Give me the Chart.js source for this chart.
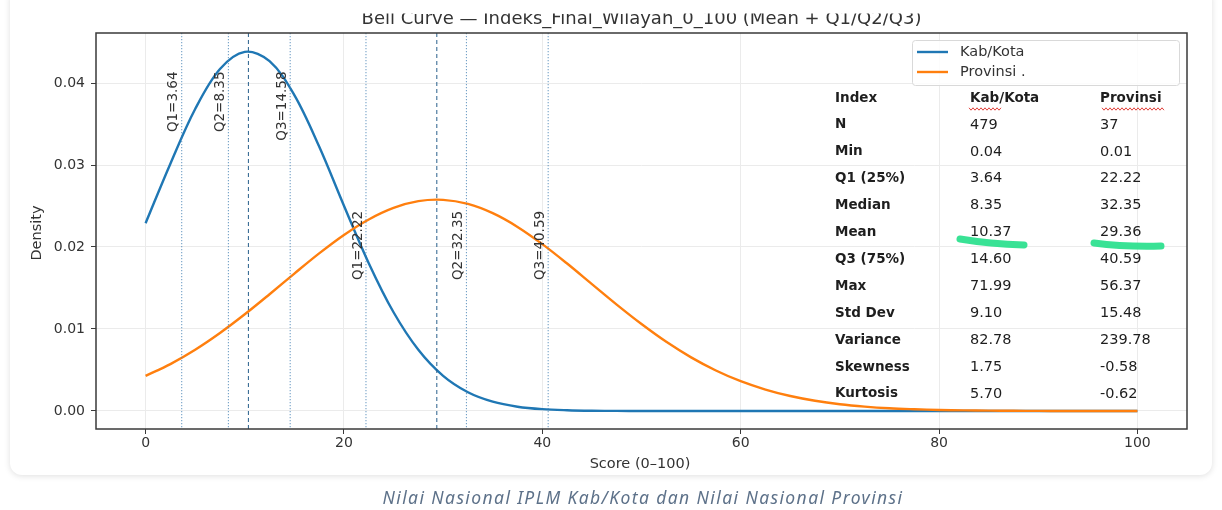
<!DOCTYPE html>
<html>
<head>
<meta charset="utf-8">
<script src="https://cdn.jsdelivr.net/npm/chart.js@4.4.1/dist/chart.umd.min.js"></script>
<style>
    html, body {
        margin: 0;
        padding: 0;
        background: #ffffff;
        width: 1222px;
        height: 510px;
        overflow: hidden;
    }

    #card {
        position: absolute;
        left: 10px;
        top: -12px;
        width: 1202px;
        height: 487px;
        background: #ffffff;
        border-radius: 12px;
        box-shadow: 0 1px 6px rgba(0, 0, 0, 0.13);
    }

    #bell {
        position: absolute;
        left: 0;
        top: 0;
    }

    #caption {
        position: absolute;
        left: 32px;
        top: 485px;
        width: 1222px;
        text-align: center;
        font-family: "Noto Sans", sans-serif;
        font-style: italic;
        font-size: 17.5px;
        letter-spacing: 1.4px;
        color: #5d7189;
    }
</style>
</head>
<body>
<div id="card"></div>
<canvas id="bell" width="1222" height="510"></canvas>
<div id="caption">Nilai Nasional IPLM Kab/Kota dan Nilai Nasional Provinsi</div>

<script>
const scoreX = [
    0, 2.5, 5, 7.5, 10, 12.5, 15, 17.5, 20, 22.5,
    25, 27.5, 30, 32.5, 35, 37.5, 40, 42.5, 45, 47.5,
    50, 52.5, 55, 57.5, 60, 62.5, 65, 67.5, 70, 72.5,
    75, 77.5, 80, 82.5, 85, 87.5, 90, 92.5, 95, 97.5,
    100
];

const kabDensity = [
    0.02290, 0.03016, 0.03683, 0.04171, 0.04380, 0.04266, 0.03852, 0.03225, 0.02504, 0.01803,
    0.01204, 0.00746, 0.00428, 0.00228, 0.00113, 0.00052, 0.00022, 0.00009, 0.00003, 0.00001,
    0, 0, 0, 0, 0, 0, 0, 0, 0, 0,
    0, 0, 0, 0, 0, 0, 0, 0, 0, 0,
    0
];

const provDensity = [
    0.00427, 0.00572, 0.00747, 0.00951, 0.01179, 0.01424, 0.01676, 0.01922, 0.02147, 0.02336,
    0.02477, 0.02559, 0.02575, 0.02525, 0.02412, 0.02245, 0.02035, 0.01798, 0.01547, 0.01297,
    0.01060, 0.00843, 0.00654, 0.00494, 0.00363, 0.00261, 0.00182, 0.00124, 0.00082, 0.00053,
    0.00033, 0.00021, 0.00012, 0.00007, 0.00004, 0.00002, 0.00001, 0, 0, 0,
    0
];

const xTicks = [0, 20, 40, 60, 80, 100];
const yTicks = [0, 0.01, 0.02, 0.03, 0.04];

// quartile / mean markers
const kabMarks = [3.64, 8.35, 14.58];
const kabMarkLabels = ["Q1=3.64", "Q2=8.35", "Q3=14.58"];
const kabMean = 10.37;
const kabLabelTop = 0.0414;

const provMarks = [22.22, 32.35, 40.59];
const provMarkLabels = ["Q1=22.22", "Q2=32.35", "Q3=40.59"];
const provMean = 29.36;
const provLabelTop = 0.0244;

// pasted summary table
const tableHeader = ["Index", "Kab/Kota", "Provinsi"];
const statNames = [
    "N", "Min", "Q1 (25%)", "Median", "Mean", "Q3 (75%)",
    "Max", "Std Dev", "Variance", "Skewness", "Kurtosis"
];
const kabStats = [
    "479", "0.04", "3.64", "8.35", "10.37", "14.60",
    "71.99", "9.10", "82.78", "1.75", "5.70"
];
const provStats = [
    "37", "0.01", "22.22", "32.35", "29.36", "40.59",
    "56.37", "15.48", "239.78", "-0.58", "-0.62"
];

const seriesNames = ["Kab/Kota", "Provinsi ."];
const blue = "#1f77b4";
const orange = "#ff7f0e";

const chartTitle =
    "Bell Curve \u2014 Indeks_Final_Wilayah_0_100 (Mean + Q1/Q2/Q3)";

const tickFont = {
    family: "'DejaVu Sans', sans-serif",
    size: 14
};

function vline(ctx, x, top, bottom, color, dash) {
    ctx.save();
    ctx.strokeStyle = color;
    ctx.lineWidth = 1.1;
    ctx.setLineDash(dash);
    ctx.beginPath();
    ctx.moveTo(x, top);
    ctx.lineTo(x, bottom);
    ctx.stroke();
    ctx.restore();
}

function upText(ctx, text, x, y) {
    ctx.save();
    ctx.translate(x, y);
    ctx.rotate(-Math.PI / 2);
    ctx.textAlign = "right";
    ctx.textBaseline = "bottom";
    ctx.fillText(text, 0, 0);
    ctx.restore();
}

const decorPlugin = {
    id: "decor",

    afterDatasetsDraw(chart) {
        const ctx = chart.ctx;
        const area = chart.chartArea;
        const xs = chart.scales.x;
        const ys = chart.scales.y;

        // marker lines
        kabMarks.concat(provMarks).forEach(v => {
            vline(ctx, xs.getPixelForValue(v), area.top, area.bottom,
                "rgba(70, 130, 180, 0.75)", [1.2, 1.8]);
        });
        [kabMean, provMean].forEach(v => {
            vline(ctx, xs.getPixelForValue(v), area.top, area.bottom,
                "rgba(40, 95, 140, 0.9)", [4, 3]);
        });

        // marker labels
        ctx.save();
        ctx.font = "13.5px 'DejaVu Sans', sans-serif";
        ctx.fillStyle = "#333";
        kabMarks.forEach((v, i) => {
            upText(ctx, kabMarkLabels[i],
                xs.getPixelForValue(v) - 1,
                ys.getPixelForValue(kabLabelTop));
        });
        provMarks.forEach((v, i) => {
            upText(ctx, provMarkLabels[i],
                xs.getPixelForValue(v) - 1,
                ys.getPixelForValue(provLabelTop));
        });
        ctx.restore();
    },

    afterDraw(chart) {
        const ctx = chart.ctx;
        const area = chart.chartArea;

        // spines
        ctx.save();
        ctx.strokeStyle = "#3a3a3a";
        ctx.lineWidth = 1.5;
        ctx.strokeRect(area.left, area.top,
            area.right - area.left, area.bottom - area.top);
        ctx.restore();

        // title, top of it cut off as in the screenshot
        ctx.save();
        ctx.beginPath();
        ctx.rect(0, 13.5, chart.width, 40);
        ctx.clip();
        ctx.font = "18px 'DejaVu Sans', sans-serif";
        ctx.fillStyle = "#333";
        ctx.textAlign = "center";
        ctx.textBaseline = "alphabetic";
        ctx.fillText(chartTitle, (area.left + area.right) / 2, 23.5);
        ctx.restore();

        // axis titles
        ctx.save();
        ctx.font = "14.5px 'DejaVu Sans', sans-serif";
        ctx.fillStyle = "#333";
        ctx.textAlign = "center";
        ctx.textBaseline = "middle";
        ctx.fillText("Score (0\u2013100)", 640, 464);
        ctx.translate(37, 233);
        ctx.rotate(-Math.PI / 2);
        ctx.fillText("Density", 0, 0);
        ctx.restore();

        // legend box
        ctx.save();
        ctx.fillStyle = "rgba(255,255,255,0.85)";
        ctx.strokeStyle = "#d9d9d9";
        ctx.lineWidth = 1;
        ctx.beginPath();
        ctx.roundRect(912.5, 40.5, 267, 45, 3);
        ctx.fill();
        ctx.stroke();
        ctx.font = "14.5px 'DejaVu Sans', sans-serif";
        ctx.textBaseline = "middle";
        [blue, orange].forEach((c, i) => {
            const y = 52 + i * 20;
            ctx.strokeStyle = c;
            ctx.lineWidth = 2.4;
            ctx.beginPath();
            ctx.moveTo(917, y);
            ctx.lineTo(948, y);
            ctx.stroke();
            ctx.fillStyle = "#333";
            ctx.fillText(seriesNames[i], 960, y);
        });
        ctx.restore();

        // summary table
        const colX = [835, 970, 1100];
        const rowY = 98;
        const rowStep = 26.9;
        ctx.save();
        ctx.textBaseline = "middle";
        ctx.fillStyle = "#1e1e1e";
        ctx.font = "bold 13.5px 'DejaVu Sans', sans-serif";
        tableHeader.forEach((h, i) => {
            ctx.fillText(h, colX[i], rowY);
        });
        statNames.forEach((s, i) => {
            ctx.font = "bold 13.5px 'DejaVu Sans', sans-serif";
            ctx.fillText(s, colX[0], rowY + (i + 1) * rowStep);
            ctx.font = "14.5px 'DejaVu Sans', sans-serif";
            ctx.fillText(kabStats[i], colX[1], rowY + (i + 1) * rowStep);
            ctx.fillText(provStats[i], colX[2], rowY + (i + 1) * rowStep);
        });

        // spell-check squiggles under the headers
        ctx.strokeStyle = "#e0403a";
        ctx.lineWidth = 1;
        [[969, 1001], [1102, 1164]].forEach(seg => {
            ctx.beginPath();
            for (let x = seg[0], k = 0; x <= seg[1]; x += 2, k++) {
                const y = 109 + (k % 2 ? 1.2 : -1.2);
                if (k === 0) ctx.moveTo(x, y);
                else ctx.lineTo(x, y);
            }
            ctx.stroke();
        });

        // green highlighter strokes under the means
        ctx.strokeStyle = "rgba(40, 224, 140, 0.92)";
        ctx.lineWidth = 7;
        ctx.lineCap = "round";
        ctx.beginPath();
        ctx.moveTo(960, 239);
        ctx.quadraticCurveTo(990, 244, 1024, 245);
        ctx.stroke();
        ctx.beginPath();
        ctx.moveTo(1094, 243);
        ctx.quadraticCurveTo(1125, 247, 1161, 246);
        ctx.stroke();
        ctx.restore();
    }
};

function drawBell() {

    const kabPoints =
        scoreX.map((x, i) => ({ x, y: kabDensity[i] }));

    const provPoints =
        scoreX.map((x, i) => ({ x, y: provDensity[i] }));

    const ctx =
        document.getElementById("bell");

    new Chart(ctx, {

        type: "line",

        data: {
            datasets: [
                {
                    label: seriesNames[0],
                    data: kabPoints,
                    borderColor: blue,
                    borderWidth: 2.4,
                    pointRadius: 0,
                    tension: 0.35,
                    order: 2
                },
                {
                    label: seriesNames[1],
                    data: provPoints,
                    borderColor: orange,
                    borderWidth: 2.4,
                    pointRadius: 0,
                    tension: 0.35,
                    order: 1
                }
            ]
        },

        options: {
            responsive: false,
            animation: false,
            layout: {
                padding: { left: 0, right: 35, top: 33, bottom: 0 }
            },
            plugins: {
                legend: { display: false },
                tooltip: { enabled: false }
            },
            scales: {
                x: {
                    type: "linear",
                    min: -5,
                    max: 105,
                    afterFit: s => { s.height = 81; },
                    afterBuildTicks: s => {
                        s.ticks = xTicks.map(v => ({ value: v }));
                    },
                    border: { display: false },
                    grid: {
                        color: "#ebebeb",
                        tickColor: "#3a3a3a",
                        tickLength: 5,
                        lineWidth: 1
                    },
                    ticks: {
                        color: "#333",
                        font: tickFont,
                        padding: 1,
                        maxRotation: 0
                    }
                },
                y: {
                    min: -0.0022,
                    max: 0.0461,
                    afterFit: s => { s.width = 96; },
                    afterBuildTicks: s => {
                        s.ticks = yTicks.map(v => ({ value: v }));
                    },
                    border: { display: false },
                    grid: {
                        color: "#ebebeb",
                        tickColor: "#3a3a3a",
                        tickLength: 5,
                        lineWidth: 1
                    },
                    ticks: {
                        color: "#333",
                        font: tickFont,
                        padding: 6,
                        callback: v => v.toFixed(2)
                    }
                }
            }
        },

        plugins: [decorPlugin]
    });
}

drawBell();
</script>
</body>
</html>
